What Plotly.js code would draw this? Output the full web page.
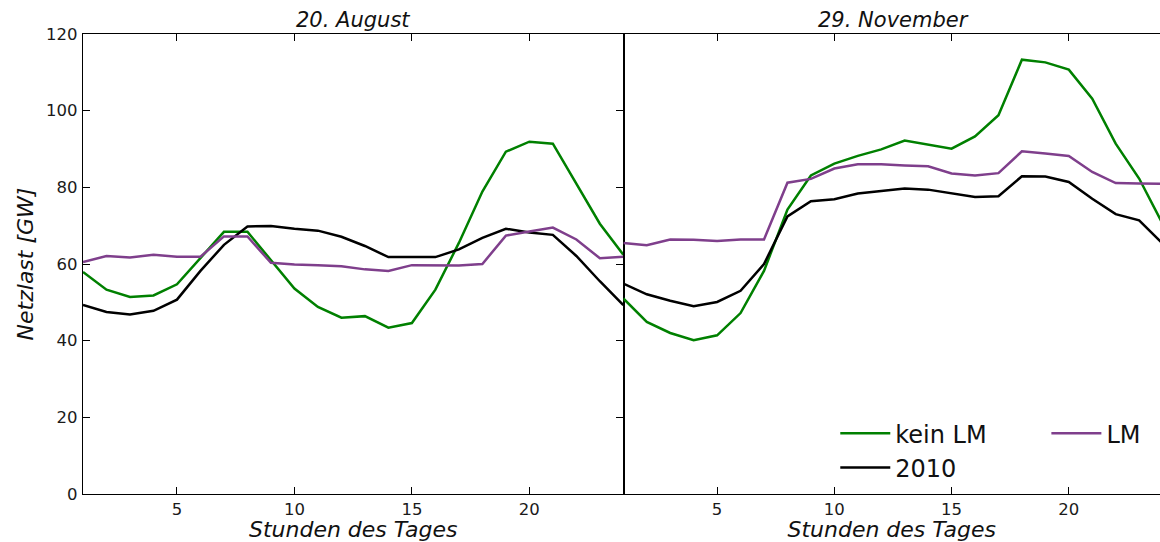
<!DOCTYPE html>
<html>
<head>
<meta charset="utf-8">
<script src="https://cdn.plot.ly/plotly-3.0.1.min.js"></script>
<style>
  html, body { margin: 0; padding: 0; background: #fff; overflow: hidden; }
  #chart { width: 1160px; height: 542px; }
</style>
</head>
<body>
<div id="chart"></div>
<script>
// ---- data ----
const hours = [1,2,3,4,5,6,7,8,9,10,11,12,13,14,15,16,17,18,19,20,21,22,23,24];
const seriesNames = ["kein LM", "2010", "LM"];
const panelTitles = ["20. August", "29. November"];
const xTickVals = [5, 10, 15, 20];
const yTickVals = [0, 20, 40, 60, 80, 100, 120];

const augKeinLM = [57.9, 53.3, 51.4, 51.8, 54.7, 61.5, 68.4, 68.4, 61.0, 53.6, 48.8, 46.0, 46.4, 43.4, 44.6, 53.3, 65.5, 78.9, 89.3, 91.9, 91.4, 80.8, 70.5, 62.4];
const aug2010   = [49.3, 47.5, 46.8, 47.8, 50.7, 58.2, 65.0, 69.8, 69.9, 69.2, 68.7, 67.1, 64.7, 61.8, 61.8, 61.8, 63.8, 66.8, 69.2, 68.2, 67.6, 62.1, 55.5, 49.3];
const augLM     = [60.5, 62.1, 61.7, 62.4, 61.9, 61.9, 67.2, 67.2, 60.3, 59.9, 59.7, 59.4, 58.6, 58.2, 59.7, 59.7, 59.6, 60.0, 67.4, 68.5, 69.5, 66.4, 61.5, 61.9];

const novKeinLM = [51.0, 44.9, 42.0, 40.1, 41.4, 47.2, 58.2, 74.2, 83.1, 86.2, 88.2, 89.9, 92.2, 91.2, 90.1, 93.3, 98.8, 113.3, 112.6, 110.7, 103.1, 91.4, 82.3, 70.5];
const nov2010   = [54.9, 52.1, 50.4, 49.0, 50.1, 53.0, 60.0, 72.4, 76.4, 76.9, 78.4, 79.0, 79.7, 79.4, 78.4, 77.5, 77.7, 82.9, 82.8, 81.4, 77.0, 73.0, 71.4, 65.3];
const novLM     = [65.5, 64.9, 66.4, 66.3, 66.0, 66.4, 66.4, 81.2, 82.2, 84.9, 86.0, 86.0, 85.7, 85.5, 83.6, 83.1, 83.7, 89.4, 88.8, 88.2, 84.0, 81.1, 81.0, 80.9];

// ---- styles ----
const GREEN = "#008000", BLACK = "#000000", PURPLE = "#7f3f8c";
const FONT = "DejaVu Sans";

function line(x, y, name, color, xa, ya, show, legend) {
  return { x: x, y: y, name: name, type: "scatter", mode: "lines",
           line: { color: color, width: 2.5 }, xaxis: xa, yaxis: ya,
           showlegend: show, legend: legend || "legend", hoverinfo: "skip" };
}

const traces = [
  line(hours, augKeinLM, seriesNames[0], GREEN, "x", "y", false),
  line(hours, aug2010,   seriesNames[1], BLACK, "x", "y", false),
  line(hours, augLM,     seriesNames[2], PURPLE, "x", "y", false),
  line(hours, novKeinLM, seriesNames[0], GREEN, "x2", "y2", true, "legend"),
  line(hours, nov2010,   seriesNames[1], BLACK, "x2", "y2", true, "legend"),
  line(hours, novLM,     seriesNames[2], PURPLE, "x2", "y2", true, "legend2")
];

const split = 0.5017;
const tickFont = { family: FONT, size: 16.5, color: "#1a1a1a" };
const axTitleFont = { family: FONT, size: 22, color: "#111", style: "italic" };

function xAxis(domain, range, anchor) {
  return { domain: domain, range: range, anchor: anchor,
    tickmode: "array", tickvals: xTickVals, ticks: "inside", ticklen: 7, tickcolor: "#000",
    mirror: "ticks", showline: true, linecolor: "#000", linewidth: 1.3,
    showgrid: false, zeroline: false, tickfont: tickFont,
    title: { text: "Stunden des Tages", font: axTitleFont, standoff: 6 } };
}

const legendFont = { family: FONT, size: 24, color: "#111" };

const layout = {
  width: 1160, height: 542,
  margin: { l: 83, r: 0, t: 34, b: 48 },
  paper_bgcolor: "#fff", plot_bgcolor: "#fff",
  font: { family: FONT, color: "#222" },
  showlegend: true,
  xaxis: xAxis([0, split], [1, 24], "y"),
  xaxis2: xAxis([split, 1], [1, 23.89], "y2"),
  yaxis: { domain: [0, 1], range: [0, 120], anchor: "x",
    tickmode: "array", tickvals: yTickVals, ticks: "inside", ticklen: 7, tickcolor: "#000",
    mirror: "ticks", showline: true, linecolor: "#000", linewidth: 1.3,
    showgrid: false, zeroline: false, tickfont: tickFont, ticklabelstandoff: 1,
    title: { text: "Netzlast [GW]", font: axTitleFont, standoff: 6 } },
  yaxis2: { domain: [0, 1], range: [0, 120], anchor: "x2",
    showticklabels: false, ticks: "", showline: false,
    showgrid: false, zeroline: false },
  legend: { x: 0.6985, y: 0.18, xanchor: "left", yanchor: "top",
    orientation: "v", bgcolor: "rgba(0,0,0,0)", borderwidth: 0,
    font: legendFont, itemwidth: 50, tracegroupgap: 0 },
  legend2: { x: 0.8945, y: 0.18, xanchor: "left", yanchor: "top",
    orientation: "v", bgcolor: "rgba(0,0,0,0)", borderwidth: 0,
    font: legendFont, itemwidth: 50 },
  annotations: [
    { text: panelTitles[0], xref: "paper", yref: "paper", x: 0.2507, y: 1,
      xanchor: "center", yanchor: "bottom", yshift: 0, showarrow: false,
      font: { family: FONT, size: 21, color: "#111", style: "italic" } },
    { text: panelTitles[1], xref: "paper", yref: "paper", x: 0.753, y: 1,
      xanchor: "center", yanchor: "bottom", yshift: 0, showarrow: false,
      font: { family: FONT, size: 21, color: "#111", style: "italic" } }
  ]
};

Plotly.newPlot("chart", traces, layout, { staticPlot: true, displayModeBar: false });
</script>
</body>
</html>
